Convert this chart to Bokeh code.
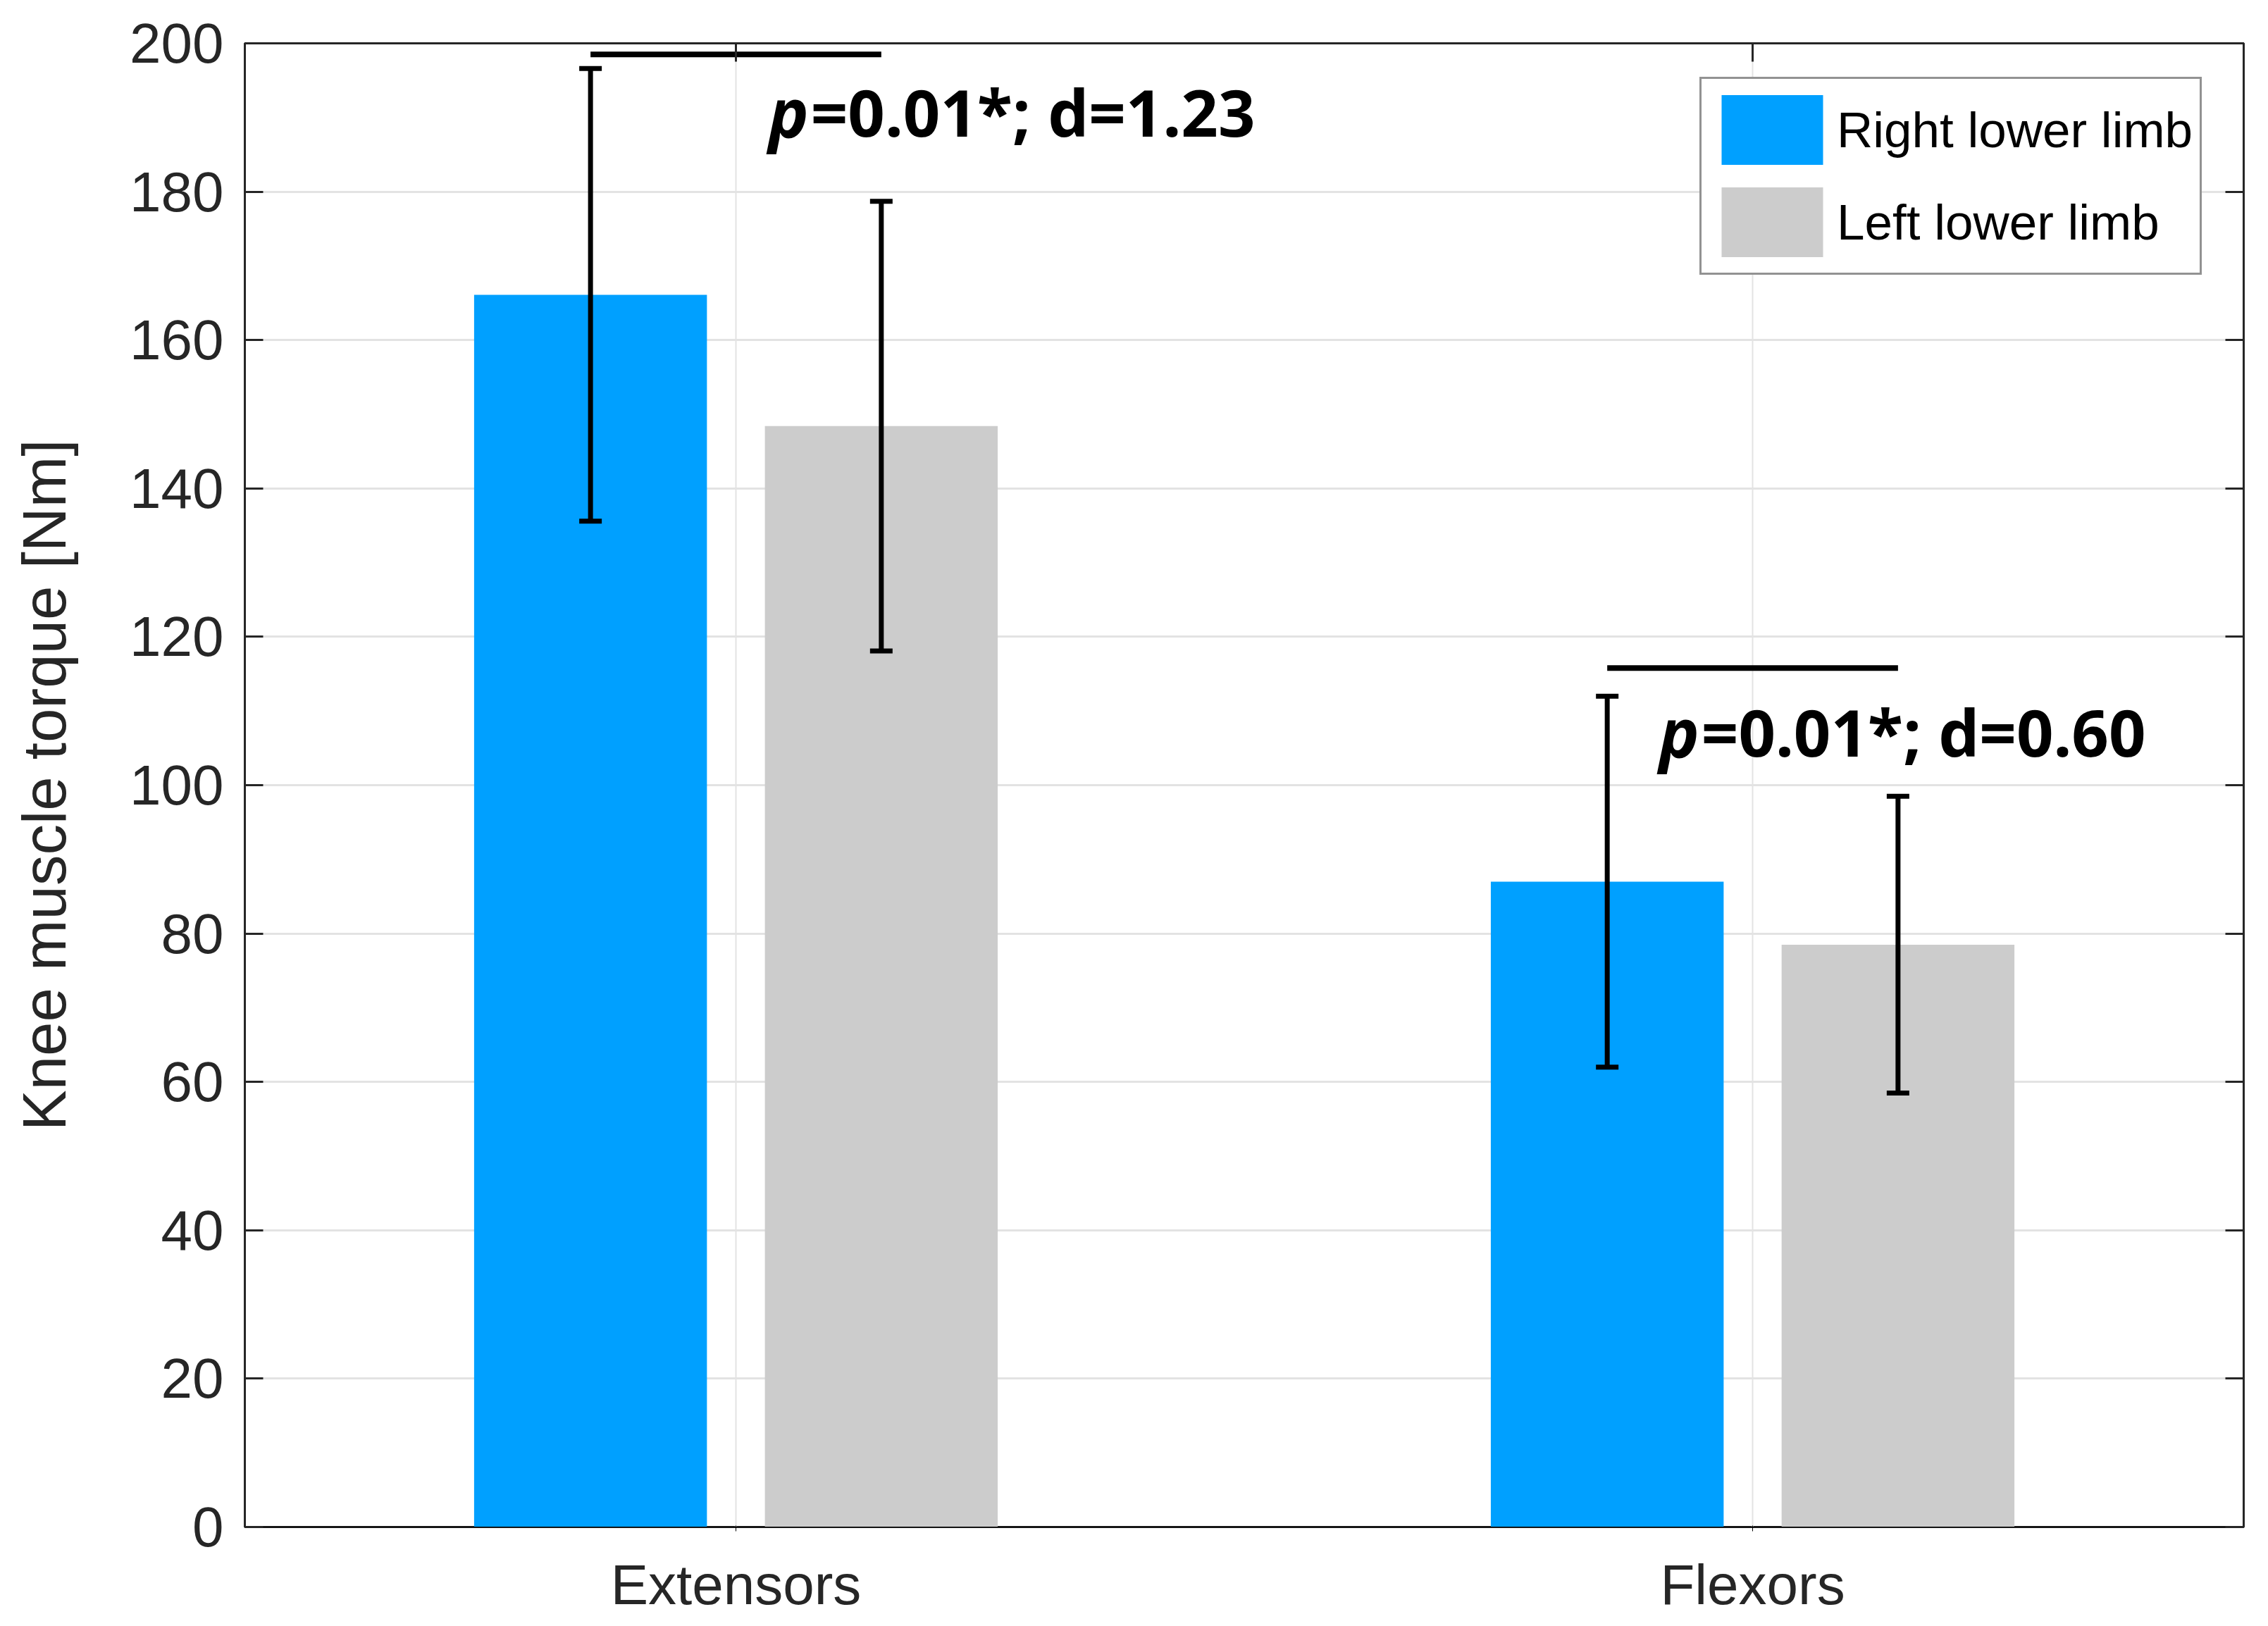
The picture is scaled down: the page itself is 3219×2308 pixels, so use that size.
from bokeh.plotting import figure
from bokeh.models import (ColumnDataSource, Range1d, FixedTicker, LinearAxis,
                          Whisker, TeeHead, Legend)
from bokeh.transform import dodge
from bokeh.core.properties import value
from bokeh.embed import file_html
from bokeh.resources import INLINE

# data (mean +/- SD, Nm)
muscles = ["Extensors", "Flexors"]
right_mean = [166.1, 87.0]
right_sd = [30.5, 25.0]
left_mean = [148.4, 78.5]
left_sd = [30.3, 20.0]
stats_text = ["=0.01*; d=1.23", "=0.01*; d=0.60"]
y_ticks = list(range(0, 201, 20))

BLUE = "#00A0FF"
GREY = "#CCCCCC"
INK = "#262626"
FONT = "Liberation Sans"

idx = list(range(len(muscles)))
src = ColumnDataSource(dict(
    idx=idx,
    right=right_mean,
    left=left_mean,
    right_lo=[m - s for m, s in zip(right_mean, right_sd)],
    right_hi=[m + s for m, s in zip(right_mean, right_sd)],
    left_lo=[m - s for m, s in zip(left_mean, left_sd)],
    left_hi=[m + s for m, s in zip(left_mean, left_sd)],
    bracket=[198.5, 115.8],
    text_x=[0.032, 0.908],
    text_y=[190.8, 107.2],
    p_lbl=["p", "p"],
    stats=stats_text,
))

p = figure(frame_width=2837, frame_height=2106,
           x_range=Range1d(-0.483, 1.483), y_range=Range1d(0, 200),
           output_backend="svg", toolbar_location=None,
           min_border_left=347, min_border_top=61,
           min_border_right=21, min_border_bottom=125)

off = 0.143
bw = 0.229
r1 = p.vbar(x=dodge("idx", -off, range=p.x_range), top="right", width=bw,
            source=src, fill_color=BLUE, line_color=None)
r2 = p.vbar(x=dodge("idx", off, range=p.x_range), top="left", width=bw,
            source=src, fill_color=GREY, line_color=None)

for base, lo, hi in [(-off, "right_lo", "right_hi"), (off, "left_lo", "left_hi")]:
    w = Whisker(source=src, base=dodge("idx", base, range=p.x_range),
                lower=lo, upper=hi, dimension="height",
                line_width=7, line_color="black", level="annotation",
                upper_head=TeeHead(size=32, line_width=7, line_color="black"),
                lower_head=TeeHead(size=32, line_width=7, line_color="black"))
    p.add_layout(w)

# significance brackets
p.segment(x0=dodge("idx", -off, range=p.x_range), x1=dodge("idx", off, range=p.x_range),
          y0="bracket", y1="bracket", source=src, line_width=8, line_color="black")

p.text(x="text_x", y="text_y", text="p_lbl", source=src,
       text_font=value("Noto Sans"), text_font_style="bold italic",
       text_font_size="96px", text_baseline="alphabetic", text_color="black")
p.text(x="text_x", y="text_y", text="stats", source=src, x_offset=60,
       text_font=value("Noto Sans"), text_font_style="bold",
       text_font_size="92px", text_baseline="alphabetic", text_color="black")

# axes
p.xaxis.ticker = FixedTicker(ticks=idx)
p.xaxis.major_label_overrides = {i: m for i, m in zip(idx, muscles)}
p.yaxis.ticker = FixedTicker(ticks=y_ticks)
p.yaxis.axis_label = "Knee muscle torque [Nm]"
p.yaxis.axis_label_text_font = FONT
p.yaxis.axis_label_text_font_size = "87px"
p.yaxis.axis_label_text_font_style = "normal"
p.yaxis.axis_label_text_color = INK
p.yaxis.axis_label_standoff = 70
p.xaxis.major_label_standoff = 31
p.yaxis.major_label_standoff = 30

for ax in [p.xaxis[0], p.yaxis[0]]:
    ax.major_label_text_font = FONT
    ax.major_label_text_font_size = "80px"
    ax.major_label_text_color = INK

# mirrored tick marks on the right and top (box on)
right_ax = LinearAxis(ticker=FixedTicker(ticks=y_ticks),
                      major_label_overrides={t: "" for t in y_ticks})
top_ax = LinearAxis(ticker=FixedTicker(ticks=idx),
                    major_label_overrides={i: "" for i in idx})
p.add_layout(right_ax, "right")
p.add_layout(top_ax, "above")

for ax in [p.xaxis[0], p.yaxis[0], right_ax, top_ax]:
    ax.axis_line_color = INK
    ax.axis_line_width = 3
    ax.major_tick_in = 26
    ax.major_tick_out = 0
    ax.major_tick_line_color = INK
    ax.major_tick_line_width = 3
    ax.minor_tick_line_color = None

p.outline_line_color = INK
p.outline_line_width = 3

p.xgrid.ticker = FixedTicker(ticks=idx)
p.ygrid.ticker = FixedTicker(ticks=y_ticks)
p.xgrid.grid_line_color = "#e3e3e3"
p.xgrid.grid_line_width = 2
p.ygrid.grid_line_color = "#e3e3e3"
p.ygrid.grid_line_width = 3

legend = Legend(items=[("Right lower limb", [r1]), ("Left lower limb", [r2])],
                location=(2065, 1777), margin=0, padding=10, spacing=7,
                glyph_width=180, glyph_height=124, label_standoff=2,
                label_text_font=FONT, label_text_font_size="71px",
                label_text_color="black",
                border_line_color=INK, border_line_width=3,
                background_fill_color="white", background_fill_alpha=1)
p.add_layout(legend)

open("out.html", "w").write(file_html(p, INLINE))
